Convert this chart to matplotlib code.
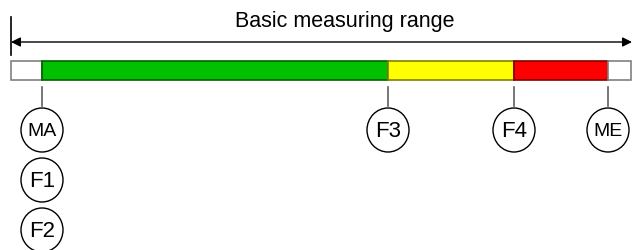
import matplotlib
matplotlib.use("Agg")
import matplotlib.pyplot as plt
from matplotlib.patches import Rectangle, Ellipse

plt.rcParams['font.family'] = ['Liberation Sans', 'DejaVu Sans']

# Data
title = "Basic measuring range"
segment_edges = [11, 42, 388, 514, 608, 631]
segment_colors = ["#FFFFFF", "#00C000", "#FFFF00", "#FF0000", "#FFFFFF"]
segment_edgecolors = ["#808080", "#006000", "#808000", "#800000", "#808080"]
marker_labels = ["MA", "F3", "F4", "ME"]
marker_positions = [42, 388, 514, 608]
stack_labels = ["F1", "F2"]

fig = plt.figure(figsize=(6.32, 2.51), dpi=100)
ax = fig.add_axes([0, 0, 1, 1])
ax.set_xlim(0, 632)
ax.set_ylim(251, 0)
ax.axis('off')

bar_top, bar_h = 62, 19
for x0, x1, fc, ec in zip(segment_edges[:-1], segment_edges[1:], segment_colors, segment_edgecolors):
    ax.add_patch(Rectangle((x0, bar_top), x1 - x0, bar_h, facecolor=fc, edgecolor=ec, lw=1.2))

# Range arrow
ax.plot([11, 11], [18, 56], color='black', lw=1.2)
ax.annotate('', xy=(11, 43), xytext=(632, 43),
            arrowprops=dict(arrowstyle='<|-|>', color='black', lw=1, mutation_scale=14, shrinkA=0, shrinkB=0))
ax.text(345, 21, title, ha='center', va='center', fontsize=15.5)

circ_w, circ_h = 42, 44
def circle(x, y, label):
    ax.add_patch(Ellipse((x, y), circ_w, circ_h, facecolor='white', edgecolor='black', lw=1))
    fs = 16 if label.startswith('F') else 14
    ax.text(x, y + 1, label, ha='center', va='center', fontsize=fs)

for lab, x in zip(marker_labels, marker_positions):
    ax.plot([x, x], [88, 107], color='#606060', lw=1.2)
    circle(x, 131, lab)

for i, lab in enumerate(stack_labels):
    circle(marker_positions[0], 181 + 50 * i, lab)

fig.savefig('out.png', dpi=100)
